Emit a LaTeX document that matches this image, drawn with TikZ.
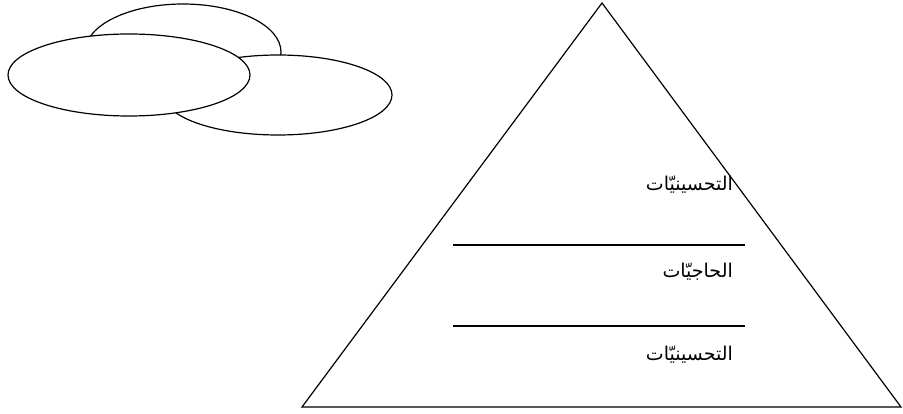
\documentclass[tikz,border=0pt]{standalone}
\usepackage{fontspec}
\newfontfamily\arabicfont[Script=Arabic]{DejaVu Sans}
\TeXXeTstate=1
\begin{document}
\begin{tikzpicture}[x=1pt,y=-1pt,
  shape line/.style={draw=black,line width=1.2pt},
  cloud part/.style={shape line,fill=white},
  level label/.style={anchor=east,inner sep=0pt,font=\arabicfont\fontsize{19}{22}\selectfont}]
\useasboundingbox (0,0) rectangle (903,414);
% clouds
\draw[cloud part] (183,52) ellipse [x radius=98,y radius=48];
\draw[cloud part] (278,95) ellipse [x radius=114,y radius=40];
\draw[cloud part] (129,75) ellipse [x radius=121,y radius=41];
% pyramid
\coordinate (apex) at (602,3);
\coordinate (bl) at (302,407);
\coordinate (br) at (901,407);
\draw[shape line,line join=miter] (apex) -- (br) -- (bl) -- cycle;
\coordinate (l1a) at (453,245);
\coordinate (l1b) at (745,245);
\coordinate (l2a) at (453,326);
\coordinate (l2b) at (745,326);
\draw[shape line] (l1a) -- (l1b);
\draw[shape line] (l2a) -- (l2b);
% labels
\node[level label] (t1) at (733,185) {\beginR التحسينيّات\endR};
\node[level label] (t2) at (733,272) {\beginR الحاجيّات\endR};
\node[level label] (t3) at (733,355) {\beginR التحسينيّات\endR};
\end{tikzpicture}
\end{document}
